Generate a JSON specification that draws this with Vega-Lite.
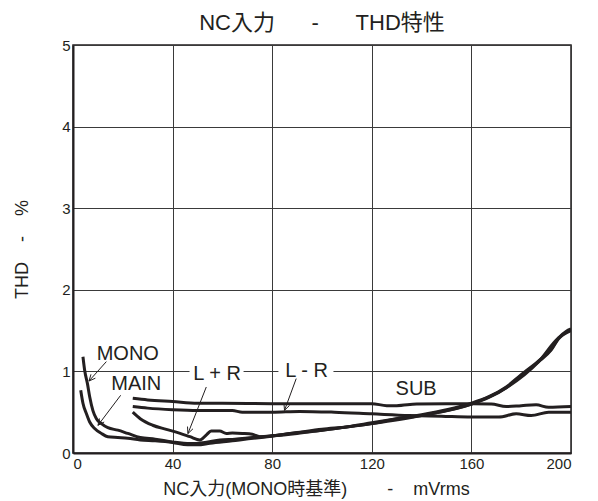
{
  "$schema": "https://vega.github.io/schema/vega-lite/v6.json",
  "autosize": {"type": "none"},
  "width": 498,
  "height": 408,
  "padding": {"left": 73, "top": 45, "right": 27, "bottom": 48},
  "background": "white",
  "config": {
    "font": "Liberation Sans, Noto Sans CJK JP",
    "view": {"stroke": "#231f20", "strokeWidth": 1.5},
    "axis": {
      "grid": true,
      "gridColor": "#3a3a3a",
      "gridWidth": 1,
      "gridOpacity": 1,
      "domainColor": "#231f20",
      "domainWidth": 2,
      "ticks": false,
      "labelFont": "Liberation Sans",
      "labelFontSize": 15,
      "labelColor": "#231f20",
      "titleFont": "Liberation Sans, Noto Sans CJK JP",
      "titleFontSize": 18,
      "titleFontWeight": "normal",
      "titleColor": "#231f20"
    }
  },
  "title": {
    "text": "NC入力\u00a0\u00a0\u00a0\u00a0\u00a0\u00a0-\u00a0\u00a0\u00a0\u00a0\u00a0\u00a0THD特性",
    "fontSize": 22,
    "fontWeight": "normal",
    "color": "#231f20",
    "font": "Liberation Sans, Noto Sans CJK JP",
    "offset": 3
  },
  "datasets": {
    "curves": [
      {"series": "MONO", "x": 4, "y": 1.18}, {"series": "MONO", "x": 4.7, "y": 1.01}, {"series": "MONO", "x": 5.8, "y": 0.85}, {"series": "MONO", "x": 6.7, "y": 0.69}, {"series": "MONO", "x": 8, "y": 0.52}, {"series": "MONO", "x": 9.4, "y": 0.42}, {"series": "MONO", "x": 11.4, "y": 0.36}, {"series": "MONO", "x": 14, "y": 0.31}, {"series": "MONO", "x": 18, "y": 0.28}, {"series": "MONO", "x": 22, "y": 0.24}, {"series": "MONO", "x": 27, "y": 0.19}, {"series": "MONO", "x": 33, "y": 0.17}, {"series": "MONO", "x": 40, "y": 0.135}, {"series": "MONO", "x": 47, "y": 0.115}, {"series": "MONO", "x": 53, "y": 0.13}, {"series": "MONO", "x": 59, "y": 0.16}, {"series": "MONO", "x": 65, "y": 0.17}, {"series": "MONO", "x": 72, "y": 0.19}, {"series": "MONO", "x": 80, "y": 0.21}, {"series": "MONO", "x": 90, "y": 0.25}, {"series": "MONO", "x": 100, "y": 0.29}, {"series": "MONO", "x": 110, "y": 0.32}, {"series": "MONO", "x": 120, "y": 0.36}, {"series": "MONO", "x": 130, "y": 0.42}, {"series": "MONO", "x": 140, "y": 0.46}, {"series": "MONO", "x": 150, "y": 0.52}, {"series": "MONO", "x": 160, "y": 0.6}, {"series": "MONO", "x": 167, "y": 0.68}, {"series": "MONO", "x": 174, "y": 0.8}, {"series": "MONO", "x": 180, "y": 0.95}, {"series": "MONO", "x": 187, "y": 1.12}, {"series": "MONO", "x": 192, "y": 1.26}, {"series": "MONO", "x": 195, "y": 1.4}, {"series": "MONO", "x": 198, "y": 1.48}, {"series": "MONO", "x": 200, "y": 1.51},
      {"series": "MAIN", "x": 3.1, "y": 0.77}, {"series": "MAIN", "x": 4, "y": 0.61}, {"series": "MAIN", "x": 5.4, "y": 0.48}, {"series": "MAIN", "x": 6.7, "y": 0.38}, {"series": "MAIN", "x": 8.7, "y": 0.3}, {"series": "MAIN", "x": 11.4, "y": 0.24}, {"series": "MAIN", "x": 14, "y": 0.2}, {"series": "MAIN", "x": 18, "y": 0.19}, {"series": "MAIN", "x": 22, "y": 0.18}, {"series": "MAIN", "x": 27, "y": 0.16}, {"series": "MAIN", "x": 33, "y": 0.15}, {"series": "MAIN", "x": 40, "y": 0.13}, {"series": "MAIN", "x": 46, "y": 0.1}, {"series": "MAIN", "x": 50, "y": 0.1}, {"series": "MAIN", "x": 55, "y": 0.12}, {"series": "MAIN", "x": 64, "y": 0.15}, {"series": "MAIN", "x": 78, "y": 0.2}, {"series": "MAIN", "x": 87, "y": 0.24}, {"series": "MAIN", "x": 100, "y": 0.28}, {"series": "MAIN", "x": 110, "y": 0.32}, {"series": "MAIN", "x": 120, "y": 0.37}, {"series": "MAIN", "x": 130, "y": 0.42}, {"series": "MAIN", "x": 140, "y": 0.47}, {"series": "MAIN", "x": 150, "y": 0.53}, {"series": "MAIN", "x": 160, "y": 0.61}, {"series": "MAIN", "x": 167, "y": 0.69}, {"series": "MAIN", "x": 174, "y": 0.81}, {"series": "MAIN", "x": 180, "y": 0.96}, {"series": "MAIN", "x": 187, "y": 1.13}, {"series": "MAIN", "x": 192, "y": 1.27}, {"series": "MAIN", "x": 195, "y": 1.41}, {"series": "MAIN", "x": 198, "y": 1.49}, {"series": "MAIN", "x": 200, "y": 1.52},
      {"series": "L+R", "x": 24, "y": 0.5}, {"series": "L+R", "x": 27, "y": 0.42}, {"series": "L+R", "x": 32, "y": 0.34}, {"series": "L+R", "x": 37.5, "y": 0.29}, {"series": "L+R", "x": 43, "y": 0.24}, {"series": "L+R", "x": 47, "y": 0.2}, {"series": "L+R", "x": 51, "y": 0.16}, {"series": "L+R", "x": 53.5, "y": 0.22}, {"series": "L+R", "x": 55.5, "y": 0.27}, {"series": "L+R", "x": 58.9, "y": 0.27}, {"series": "L+R", "x": 61.6, "y": 0.24}, {"series": "L+R", "x": 64, "y": 0.245}, {"series": "L+R", "x": 68, "y": 0.24}, {"series": "L+R", "x": 72, "y": 0.23}, {"series": "L+R", "x": 75, "y": 0.2}, {"series": "L+R", "x": 80, "y": 0.21}, {"series": "L+R", "x": 90, "y": 0.24}, {"series": "L+R", "x": 100, "y": 0.28}, {"series": "L+R", "x": 120, "y": 0.36}, {"series": "L+R", "x": 140, "y": 0.46}, {"series": "L+R", "x": 160, "y": 0.6}, {"series": "L+R", "x": 174, "y": 0.8}, {"series": "L+R", "x": 187, "y": 1.12}, {"series": "L+R", "x": 195, "y": 1.41}, {"series": "L+R", "x": 200, "y": 1.5},
      {"series": "L-R", "x": 24, "y": 0.57}, {"series": "L-R", "x": 30, "y": 0.55}, {"series": "L-R", "x": 40, "y": 0.53}, {"series": "L-R", "x": 50, "y": 0.52}, {"series": "L-R", "x": 64, "y": 0.52}, {"series": "L-R", "x": 68, "y": 0.5}, {"series": "L-R", "x": 80, "y": 0.5}, {"series": "L-R", "x": 91, "y": 0.51}, {"series": "L-R", "x": 105, "y": 0.5}, {"series": "L-R", "x": 120, "y": 0.48}, {"series": "L-R", "x": 135, "y": 0.46}, {"series": "L-R", "x": 148, "y": 0.45}, {"series": "L-R", "x": 160, "y": 0.44}, {"series": "L-R", "x": 171, "y": 0.44}, {"series": "L-R", "x": 178, "y": 0.48}, {"series": "L-R", "x": 184, "y": 0.46}, {"series": "L-R", "x": 191, "y": 0.5}, {"series": "L-R", "x": 200, "y": 0.5},
      {"series": "SUB", "x": 24, "y": 0.67}, {"series": "SUB", "x": 30, "y": 0.65}, {"series": "SUB", "x": 40, "y": 0.63}, {"series": "SUB", "x": 50, "y": 0.61}, {"series": "SUB", "x": 60, "y": 0.61}, {"series": "SUB", "x": 80, "y": 0.605}, {"series": "SUB", "x": 100, "y": 0.605}, {"series": "SUB", "x": 120, "y": 0.605}, {"series": "SUB", "x": 126, "y": 0.58}, {"series": "SUB", "x": 130, "y": 0.58}, {"series": "SUB", "x": 138, "y": 0.6}, {"series": "SUB", "x": 150, "y": 0.605}, {"series": "SUB", "x": 160, "y": 0.605}, {"series": "SUB", "x": 168, "y": 0.6}, {"series": "SUB", "x": 174, "y": 0.57}, {"series": "SUB", "x": 180, "y": 0.58}, {"series": "SUB", "x": 186, "y": 0.59}, {"series": "SUB", "x": 191, "y": 0.56}, {"series": "SUB", "x": 200, "y": 0.57}
    ],
    "masks": [
      {"x": 46.8, "x2": 68.5, "y": 0.92, "y2": 1.08},
      {"x": 82.5, "x2": 104.6, "y": 0.92, "y2": 1.08}
    ],
    "arrows": [
      {"x": 13.4, "y": 1.12, "x2": 6.42, "y2": 0.882},
      {"x": 8.99, "y": 0.917, "x2": 6.42, "y2": 0.882},
      {"x": 7.22, "y": 0.964, "x2": 6.42, "y2": 0.882},
      {"x": 19.14, "y": 0.707, "x2": 10.03, "y2": 0.339},
      {"x": 12.52, "y": 0.38, "x2": 10.03, "y2": 0.339},
      {"x": 10.63, "y": 0.423, "x2": 10.03, "y2": 0.339},
      {"x": 53.53, "y": 0.809, "x2": 46.15, "y2": 0.238},
      {"x": 48.19, "y": 0.297, "x2": 46.15, "y2": 0.238},
      {"x": 45.99, "y": 0.324, "x2": 46.15, "y2": 0.238},
      {"x": 89.65, "y": 0.912, "x2": 84.95, "y2": 0.523},
      {"x": 86.96, "y": 0.583, "x2": 84.95, "y2": 0.523},
      {"x": 84.71, "y": 0.609, "x2": 84.95, "y2": 0.523}
    ],
    "labels": [
      {"text": "MONO", "x": 22, "y": 1.215},
      {"text": "MAIN", "x": 25.4, "y": 0.85},
      {"text": "L + R", "x": 57.9, "y": 0.97},
      {"text": "L - R", "x": 93.8, "y": 1.01},
      {"text": "SUB", "x": 137.8, "y": 0.79}
    ]
  },
  "layer": [
    {
      "data": {"name": "curves"},
      "mark": {"type": "line", "color": "#231f20", "strokeWidth": 3, "interpolate": "monotone", "clip": true},
      "encoding": {
        "x": {
          "field": "x", "type": "quantitative",
          "scale": {"domain": [0, 200], "nice": false},
          "axis": {"values": [0, 40, 80, 120, 160, 200], "format": "d", "title": "NC入力(MONO時基準)\u00a0\u00a0\u00a0\u00a0\u00a0\u00a0\u00a0\u00a0-\u00a0\u00a0\u00a0\u00a0mVrms", "labelPadding": 3, "titlePadding": 9, "titleX": 243}
        },
        "y": {
          "field": "y", "type": "quantitative",
          "scale": {"domain": [0, 5], "nice": false},
          "axis": {"values": [0, 1, 2, 3, 4, 5], "format": "d", "title": "THD\u00a0\u00a0\u00a0\u00a0-\u00a0\u00a0\u00a0\u00a0%", "labelPadding": 3, "titlePadding": 30}
        },
        "detail": {"field": "series"}
      }
    },
    {
      "data": {"name": "masks"},
      "mark": {"type": "rect", "color": "white"},
      "encoding": {
        "x": {"field": "x", "type": "quantitative"},
        "x2": {"field": "x2"},
        "y": {"field": "y", "type": "quantitative"},
        "y2": {"field": "y2"}
      }
    },
    {
      "data": {"name": "arrows"},
      "mark": {"type": "rule", "color": "#231f20", "strokeWidth": 1},
      "encoding": {
        "x": {"field": "x", "type": "quantitative"},
        "x2": {"field": "x2"},
        "y": {"field": "y", "type": "quantitative"},
        "y2": {"field": "y2"}
      }
    },
    {
      "data": {"name": "labels"},
      "mark": {"type": "text", "fontSize": 20, "color": "#231f20", "font": "Liberation Sans", "align": "center", "baseline": "middle"},
      "encoding": {
        "x": {"field": "x", "type": "quantitative"},
        "y": {"field": "y", "type": "quantitative"},
        "text": {"field": "text"}
      }
    }
  ]
}
